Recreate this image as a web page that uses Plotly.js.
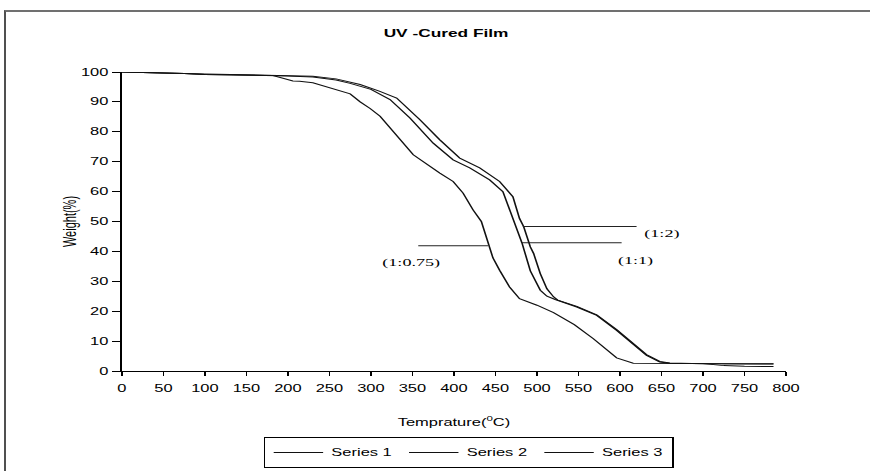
<!DOCTYPE html>
<html>
<head>
<meta charset="utf-8">
<script src="https://cdn.plot.ly/plotly-3.0.1.min.js"></script>
<style>
  html, body { margin: 0; padding: 0; background: #fff; overflow: hidden; }
  #wrap { position: absolute; left: 0; top: 0; width: 528px; height: 471px;
          transform: scaleX(1.64773); transform-origin: 0 0; }
  #frame { position: absolute; left: 4px; top: 10px; width: 2000px; height: 2000px;
           border-top: 2px solid #707070; border-left: 2px solid #505050;
           pointer-events: none; z-index: 5; }
</style>
</head>
<body>
<div id="wrap"><div id="chart"></div></div>
<div id="frame"></div>
<script>
// ---- data ----
const seriesNames = ['Series 1', 'Series 2', 'Series 3'];

const temp1 = [0, 25, 50, 75, 100, 150, 182, 206, 214, 230, 258, 275, 287, 299, 311, 331, 351, 383, 399, 411, 423, 433, 441, 447, 455, 467, 479, 500, 520, 545, 568, 584, 596, 616, 650, 700, 750, 785];
const weight1 = [100, 99.9, 99.8, 99.5, 99.2, 99.0, 98.8, 97.0, 96.9, 96.4, 94.1, 92.7, 90.0, 87.8, 85.2, 79.0, 72.3, 66.2, 63.4, 59.5, 53.9, 50.0, 42.7, 37.8, 33.7, 28.1, 24.2, 22.0, 19.5, 15.5, 10.8, 6.9, 4.4, 2.6, 2.5, 2.5, 2.4, 2.4];

const temp2 = [0, 25, 50, 75, 100, 150, 200, 230, 258, 275, 300, 323, 347, 375, 399, 419, 443, 459, 467, 474, 482, 492, 504, 512, 522, 548, 572, 596, 616, 632, 648, 660, 700, 725, 750, 785];
const weight2 = [100, 99.9, 99.7, 99.5, 99.2, 99.0, 98.7, 98.3, 97.3, 96.2, 94.2, 90.8, 84.6, 76.2, 70.6, 67.9, 63.9, 60.0, 54.2, 49.0, 42.8, 33.5, 27.0, 25.0, 23.9, 21.4, 18.6, 13.6, 9.1, 5.2, 3.0, 2.6, 2.5, 1.8, 1.6, 1.5];

const temp3 = [0, 25, 50, 75, 100, 150, 200, 230, 258, 287, 310, 331, 359, 383, 407, 431, 455, 471, 479, 484, 492, 496, 504, 512, 520, 525, 548, 572, 596, 616, 632, 648, 660, 700, 750, 785];
const weight3 = [100, 99.9, 99.8, 99.5, 99.3, 99.1, 98.9, 98.6, 97.7, 95.8, 93.6, 91.3, 84.0, 77.3, 71.2, 67.9, 63.4, 58.3, 51.0, 48.3, 41.5, 39.3, 32.6, 27.5, 24.8, 23.7, 21.6, 18.8, 13.9, 9.4, 5.5, 3.2, 2.7, 2.4, 2.3, 2.3];

const xTickVals = [0, 50, 100, 150, 200, 250, 300, 350, 400, 450, 500, 550, 600, 650, 700, 750, 800];
const yTickVals = [0, 10, 20, 30, 40, 50, 60, 70, 80, 90, 100];

// callout labels in the plot: text, leader line [x0, x1, y], label anchor [x, y]
const calloutText = ['(1:0.75)', '(1:1)', '(1:2)'];
const calloutLine = [[357, 441, 41.9], [482, 602, 42.9], [483, 620, 48.3]];
const calloutAt = [[349, 36.2], [620, 37.1], [651, 46.1]];

// ---- figure ----
const font = 'Liberation Sans, Arial, sans-serif';
const temps = [temp1, temp2, temp3];
const weights = [weight1, weight2, weight3];

const traces = seriesNames.map((n, i) => ({
  type: 'scatter', mode: 'lines', name: n,
  x: temps[i], y: weights[i],
  line: { color: '#111111', width: 1 },
  hoverinfo: 'skip'
}));

const shapes = calloutLine.map(l => ({
  type: 'line', xref: 'x', yref: 'y',
  x0: l[0], x1: l[1], y0: l[2], y1: l[2],
  line: { color: '#222222', width: 1 }
}));

const annotations = calloutText.map((t, i) => ({
  text: t, xref: 'x', yref: 'y', x: calloutAt[i][0], y: calloutAt[i][1],
  showarrow: false, xanchor: 'center', yanchor: 'middle',
  font: { family: 'Liberation Serif, Times New Roman, serif', size: 11, color: '#000' }
}));

const layout = {
  width: 528, height: 471,
  margin: { l: 74, r: 51, t: 72, b: 100, autoexpand: false },
  paper_bgcolor: 'rgba(0,0,0,0)', plot_bgcolor: 'rgba(0,0,0,0)',
  font: { family: font, size: 10, color: '#000' },
  title: {
    text: 'UV -Cured Film',
    font: { family: font, size: 10.5, weight: 700, color: '#000' },
    xref: 'container', yref: 'container', x: 0.5127, y: 0.930,
    xanchor: 'center', yanchor: 'middle'
  },
  xaxis: {
    range: [0, 800], tickvals: xTickVals, ticktext: xTickVals.map(String),
    ticks: 'outside', ticklen: 4, tickwidth: 1, tickcolor: '#000',
    showline: true, linecolor: '#000', linewidth: 1.2,
    showgrid: false, zeroline: false, ticklabelstandoff: 4, automargin: false,
    tickfont: { family: font, size: 10, color: '#000' },
    title: { text: 'Temprature(<sup>0</sup>C)', font: { family: font, size: 10, color: '#000' }, standoff: 25 }
  },
  yaxis: {
    range: [0, 100], tickvals: yTickVals, ticktext: yTickVals.map(String),
    ticks: 'outside', ticklen: 5, tickwidth: 1, tickcolor: '#000',
    showline: true, linecolor: '#000', linewidth: 1.2,
    showgrid: false, zeroline: false, automargin: false,
    tickfont: { family: font, size: 10, color: '#000' },
    title: { text: 'Weight(%)', font: { family: font, size: 11, color: '#000' }, standoff: 0 }
  },
  showlegend: true,
  legend: {
    orientation: 'h', x: 0.5226, xanchor: 'center', y: -0.2207, yanchor: 'top',
    bordercolor: '#000', borderwidth: 1, bgcolor: '#fff',
    font: { family: font, size: 10, color: '#000' },
    itemwidth: 30
  },
  shapes: shapes,
  annotations: annotations
};

Plotly.newPlot('chart', traces, layout, { staticPlot: true, displayModeBar: false });
</script>
</body>
</html>
